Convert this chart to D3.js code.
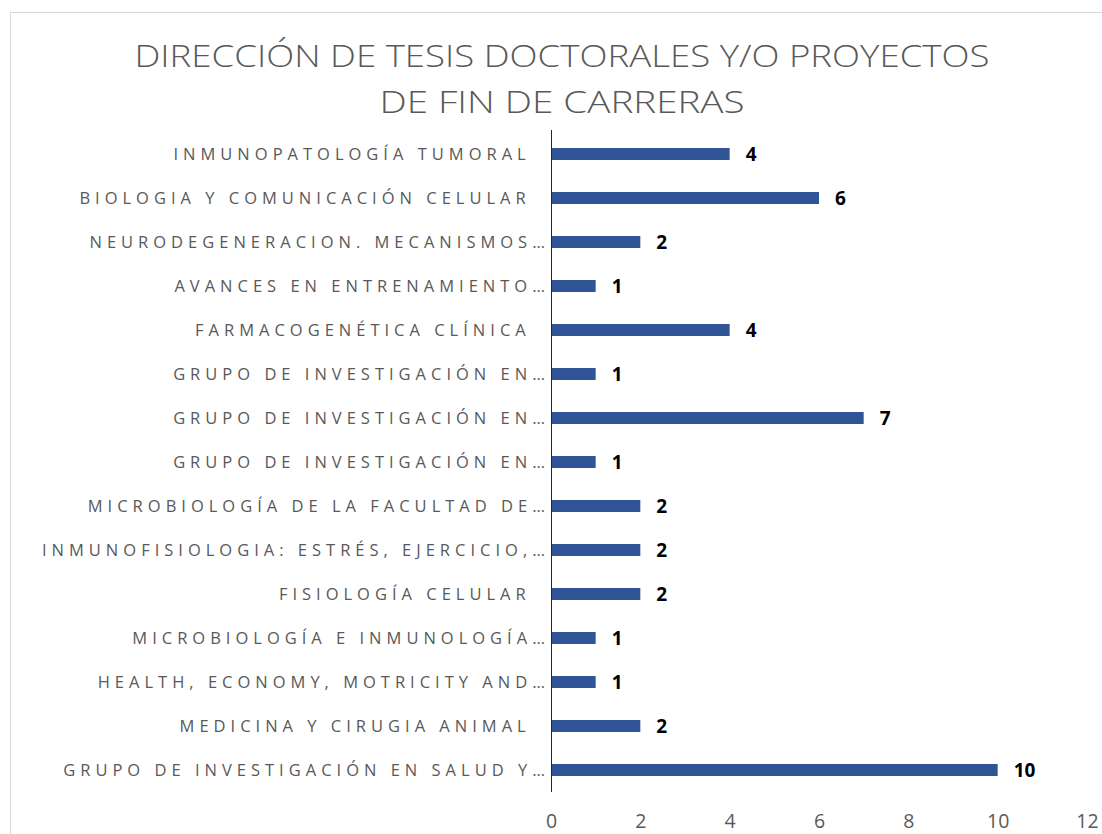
<!DOCTYPE html>
<html>
<head>
<meta charset="utf-8">
<script src="https://cdn.jsdelivr.net/npm/d3@7"></script>
<style>
html,body{margin:0;padding:0;background:#fff;}
svg{display:block;}
</style>
</head>
<body>
<svg id="chart" width="1102" height="834"></svg>
<script>
const categories = [
  "INMUNOPATOLOGÍA TUMORAL ",
  "BIOLOGIA Y COMUNICACIÓN CELULAR ",
  "NEURODEGENERACION. MECANISMOS…",
  "AVANCES EN ENTRENAMIENTO…",
  "FARMACOGENÉTICA CLÍNICA ",
  "GRUPO DE INVESTIGACIÓN EN…",
  "GRUPO DE INVESTIGACIÓN EN…",
  "GRUPO DE INVESTIGACIÓN EN…",
  "MICROBIOLOGÍA DE LA FACULTAD DE…",
  "INMUNOFISIOLOGIA: ESTRÉS, EJERCICIO,…",
  "FISIOLOGÍA CELULAR ",
  "MICROBIOLOGÍA E INMUNOLOGÍA…",
  "HEALTH, ECONOMY, MOTRICITY AND…",
  "MEDICINA Y CIRUGIA ANIMAL ",
  "GRUPO DE INVESTIGACIÓN EN SALUD Y…"
];
const values = [4, 6, 2, 1, 4, 1, 7, 1, 2, 2, 2, 1, 1, 2, 10];
const xTicks = [0, 2, 4, 6, 8, 10, 12];
const titleLines = ["DIRECCIÓN DE TESIS DOCTORALES Y/O PROYECTOS", "DE FIN DE CARRERAS"];

const svg = d3.select("#chart");

// chart border
svg.append("rect")
  .attr("x", 10.5).attr("y", 12.5)
  .attr("width", 1200).attr("height", 900)
  .attr("fill", "#fff").attr("stroke", "#d9d9d9").attr("stroke-width", 1);

// title
const titleSpecs = [{y: 67, len: 855}, {y: 113, len: 365}];
titleLines.forEach((t, i) => {
  svg.append("text")
    .attr("x", 562).attr("y", titleSpecs[i].y)
    .attr("text-anchor", "middle")
    .attr("font-family", "'Open Sans', sans-serif")
    .attr("font-size", 31)
    .attr("font-weight", 300)
    .attr("fill", "#595959")
    .attr("textLength", titleSpecs[i].len)
    .attr("lengthAdjust", "spacingAndGlyphs")
    .text(t);
});

const x = d3.scaleLinear().domain([0, 12]).range([551, 1087]);
const y = d3.scaleBand()
  .domain(d3.range(categories.length))
  .range([132, 792])
  .paddingInner(0.727)
  .paddingOuter(0.3636);

// bars
svg.append("g").selectAll("rect")
  .data(values)
  .join("rect")
  .attr("x", x(0))
  .attr("y", (d, i) => y(i))
  .attr("width", d => x(d) - x(0))
  .attr("height", y.bandwidth())
  .attr("fill", "#2F5597");

// value labels
svg.append("g").selectAll("text")
  .data(values)
  .join("text")
  .attr("x", d => x(d) + 16)
  .attr("y", (d, i) => y(i) + y.bandwidth() / 2)
  .attr("dy", "0.36em")
  .attr("font-family", "'Open Sans', sans-serif")
  .attr("font-weight", "bold")
  .attr("font-size", 19)
  .attr("fill", "#000")
  .text(d => d);

// category labels
svg.append("g").selectAll("text")
  .data(categories)
  .join("text")
  .attr("x", 550)
  .attr("dx", d => d.endsWith(" ") ? -10 : 0)
  .attr("y", (d, i) => y(i) + y.bandwidth() / 2)
  .attr("dy", "0.36em")
  .attr("text-anchor", "end")
  .attr("font-family", "'Open Sans', sans-serif")
  .attr("font-size", 16.5)
  .attr("letter-spacing", "5px")
  .attr("fill", "#595959")
  .style("white-space", "pre")
  .text(d => d);

// vertical axis line
svg.append("line")
  .attr("x1", x(0) + 0.5).attr("x2", x(0) + 0.5)
  .attr("y1", 130).attr("y2", 792)
  .attr("stroke", "#262626").attr("stroke-width", 1);

// x axis tick labels
const xAxis = d3.axisBottom(x).tickValues(xTicks).tickSize(0).tickPadding(0);
const xg = svg.append("g").attr("transform", "translate(0,828)").call(xAxis);
xg.select(".domain").remove();
xg.selectAll("text")
  .attr("y", 0).attr("dy", 0)
  .attr("font-family", "'Open Sans', sans-serif")
  .attr("font-size", 19.5)
  .attr("fill", "#595959");
</script>
</body>
</html>
